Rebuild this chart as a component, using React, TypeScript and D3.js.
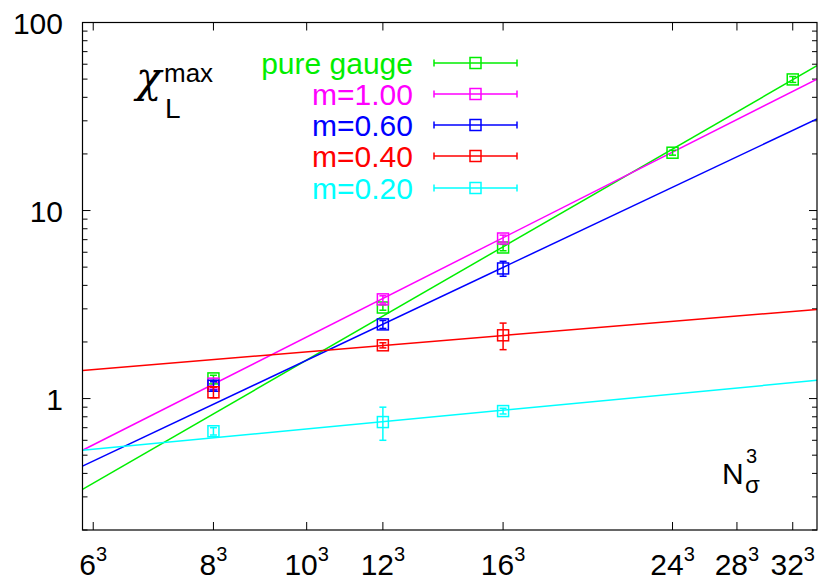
import React from 'react';
import * as d3 from 'd3';

const W = 821;
const H = 583;
const M = { left: 82.5, right: 4, top: 22.5, bottom: 53 };

const xTickN = [6, 8, 10, 12, 16, 24, 28, 32];
const yTickLabels = [1, 10, 100];
const xDomain = [200, 39000];
const yDomain = [0.2, 100];

const seriesNames = ['pure gauge', 'm=1.00', 'm=0.60', 'm=0.40', 'm=0.20'];
const seriesColors = ['#00ee00', '#ff00ff', '#0000ff', '#ff0000', '#00ffff'];

const pureN = [8, 12, 16, 24, 32];
const pureChi = [1.28, 3.05, 6.36, 20.3, 49.8];
const pureErr = [0.05, 0.1, 0.25, 0.6, 1.8];

const m100N = [8, 12, 16];
const m100Chi = [1.2, 3.37, 7.1];
const m100Err = [0.05, 0.15, 0.3];

const m060N = [8, 12, 16];
const m060Chi = [1.17, 2.48, 4.92];
const m060Err = [0.06, 0.12, 0.45];

const m040N = [8, 12, 16];
const m040Chi = [1.08, 1.92, 2.17];
const m040Err = [0.07, 0.06, 0.35];

const m020N = [8, 12, 16];
const m020Chi = [0.67, 0.75, 0.858];
const m020Err = [0.03, 0.15, 0.03];

// fit lines: values at the left and right ends of the x range
const fitAtMin = [0.329, 0.531, 0.437, 1.41, 0.531];
const fitAtMax = [58.9, 50.0, 30.7, 2.98, 1.25];

const allN = [pureN, m100N, m060N, m040N, m020N];
const allChi = [pureChi, m100Chi, m060Chi, m040Chi, m020Chi];
const allErr = [pureErr, m100Err, m060Err, m040Err, m020Err];

const FONT = 'Liberation Sans, Arial, Helvetica, sans-serif';

export default function App() {
  const x = d3.scaleLog().domain(xDomain).range([M.left, W - M.right]);
  const y = d3.scaleLog().domain(yDomain).range([H - M.bottom, M.top]);
  const x0 = M.left, x1 = W - M.right, y0 = H - M.bottom, y1 = M.top;

  const yTicks: { v: number; major: boolean }[] = [];
  [0.1, 1, 10].forEach((d) => {
    for (let k = 1; k <= 9; k++) {
      const v = k * d;
      if (v >= yDomain[0] - 1e-9 && v <= yDomain[1] + 1e-9) yTicks.push({ v, major: k === 1 });
    }
  });
  yTicks.push({ v: 100, major: true });

  const sq = 11;
  const cap = 3.5;

  const legendCenters = [63, 94, 125, 156, 188];
  const lineGen = d3.line<[number, number]>().x((d) => x(d[0])).y((d) => y(d[1]));

  return (
    <svg width={W} height={H} style={{ position: 'absolute', left: 0, top: 0, background: '#fff' }}
      fontFamily={FONT}>
      <defs>
        <clipPath id="plotclip">
          <rect x={x0} y={y1} width={x1 - x0} height={y0 - y1} />
        </clipPath>
      </defs>
      <rect x={0} y={0} width={W} height={H} fill="#fff" />

      {/* ticks */}
      {yTicks.map((t, i) => {
        const yy = y(t.v);
        const len = t.major ? 8 : 5;
        return (
          <g key={'yt' + i} stroke="#000" strokeWidth={1}>
            <line x1={x0} x2={x0 + len} y1={yy} y2={yy} />
            <line x1={x1} x2={x1 - len} y1={yy} y2={yy} />
          </g>
        );
      })}
      {xTickN.map((n) => {
        const xx = x(n * n * n);
        return (
          <g key={'xt' + n} stroke="#000" strokeWidth={1}>
            <line x1={xx} x2={xx} y1={y0} y2={y0 - 8} />
            <line x1={xx} x2={xx} y1={y1} y2={y1 + 8} />
          </g>
        );
      })}

      {/* tick labels */}
      {yTickLabels.map((v) => (
        <text key={'yl' + v} x={63} y={y(v) + 11} textAnchor="end" fontSize={30} fill="#000">
          {v}
        </text>
      ))}
      {xTickN.map((n) => (
        <text key={'xl' + n} x={x(n * n * n)} y={575} textAnchor="middle" fontSize={30} fill="#000">
          {String(n)}
          <tspan fontSize={20} dy={-14}>3</tspan>
        </text>
      ))}

      {/* fit lines and data */}
      <g clipPath="url(#plotclip)">
        {seriesNames.map((name, i) => (
          <path key={'fit' + i}
            d={lineGen([[xDomain[0], fitAtMin[i]], [xDomain[1], fitAtMax[i]]]) || ''}
            stroke={seriesColors[i]} strokeWidth={1.5} fill="none" />
        ))}
      </g>
      {seriesNames.map((name, i) => (
        <g key={'pts' + i} stroke={seriesColors[i]} strokeWidth={1.5} fill="none">
          {allN[i].map((n, j) => {
            const cx = x(n * n * n);
            const cy = y(allChi[i][j]);
            const yh = y(allChi[i][j] + allErr[i][j]);
            const yl = y(allChi[i][j] - allErr[i][j]);
            return (
              <g key={j}>
                <rect x={cx - sq / 2} y={cy - sq / 2} width={sq} height={sq} />
                <line x1={cx} x2={cx} y1={yh} y2={yl} />
                <line x1={cx - cap} x2={cx + cap} y1={yh} y2={yh} />
                <line x1={cx - cap} x2={cx + cap} y1={yl} y2={yl} />
              </g>
            );
          })}
        </g>
      ))}

      {/* legend */}
      {seriesNames.map((name, i) => {
        const cy = legendCenters[i];
        return (
          <g key={'lg' + i}>
            <text x={413} y={cy + 11} textAnchor="end" fontSize={30} fill={seriesColors[i]}>
              {name}
            </text>
            <g stroke={seriesColors[i]} strokeWidth={1.5} fill="none">
              <line x1={434} x2={517} y1={cy} y2={cy} />
              <line x1={434} x2={434} y1={cy - 3.5} y2={cy + 3.5} />
              <line x1={517} x2={517} y1={cy - 3.5} y2={cy + 3.5} />
              <rect x={475.5 - sq / 2} y={cy - sq / 2} width={sq} height={sq} />
            </g>
          </g>
        );
      })}

      {/* axis labels */}
      <text x={136} y={92} fontSize={42} fontFamily="DejaVu Serif, serif" fontStyle="italic" fill="#000">χ</text>
      <text x={164} y={82} fontSize={26} fill="#000">max</text>
      <text x={165} y={118} fontSize={28} fill="#000">L</text>

      <text x={722} y={484} fontSize={30} fill="#000">N</text>
      <text x={745} y={493} fontSize={24} fill="#000">σ</text>
      <text x={746} y={463} fontSize={20} fill="#000">3</text>

      {/* frame */}
      <rect x={x0} y={y1} width={x1 - x0} height={y0 - y1} fill="none" stroke="#000" strokeWidth={1.2} />
    </svg>
  );
}
